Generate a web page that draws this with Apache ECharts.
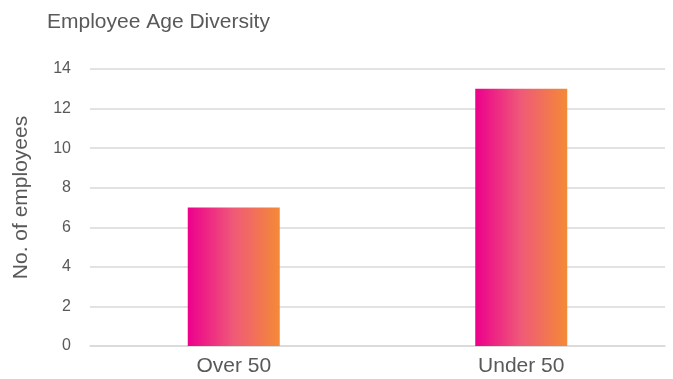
<!DOCTYPE html>
<html>
<head>
<meta charset="utf-8">
<script src="https://cdn.jsdelivr.net/npm/echarts@6/dist/echarts.min.js"></script>
<style>
  html, body { margin: 0; padding: 0; background: #fff; }
  #container { width: 673px; height: 379px; }
</style>
</head>
<body>
<div id="container"></div>
<script>
var categories = ['Over 50', 'Under 50'];
var employees = [7, 13];
var yMin = 0, yMax = 14, yStep = 2;

var myChart = echarts.init(document.getElementById('container'));
var option = {
  animation: false,
  textStyle: { fontFamily: 'Liberation Sans, Arial, sans-serif' },
  title: {
    text: 'Employee Age Diversity',
    left: 42,
    top: 7,
    textStyle: { fontSize: 21, fontWeight: 'normal', color: '#595959' }
  },
  grid: { left: 90, right: 8, top: 69, bottom: 33 },
  xAxis: {
    type: 'category',
    data: categories,
    axisTick: { show: false },
    axisLine: { lineStyle: { color: '#d9d9d9', width: 1.5 } },
    axisLabel: { fontSize: 21, color: '#595959', margin: 10 }
  },
  yAxis: {
    type: 'value',
    min: yMin,
    max: yMax,
    interval: yStep,
    name: 'No. of employees',
    nameLocation: 'middle',
    nameGap: 58,
    nameTextStyle: { fontSize: 21, color: '#595959', padding: [0, 0, 0, 20] },
    axisLine: { show: false },
    axisTick: { show: false },
    axisLabel: { fontSize: 16, color: '#595959', margin: 19 },
    splitLine: { lineStyle: { color: '#d9d9d9', width: 1.5 } }
  },
  series: [{
    type: 'bar',
    data: employees,
    barWidth: 92,
    itemStyle: {
      color: new echarts.graphic.LinearGradient(0, 0, 1, 0, [
        { offset: 0, color: '#ec008c' },
        { offset: 0.5, color: '#ef5a78' },
        { offset: 1, color: '#f48a36' }
      ])
    }
  }]
};
myChart.setOption(option, true);
</script>
</body>
</html>
